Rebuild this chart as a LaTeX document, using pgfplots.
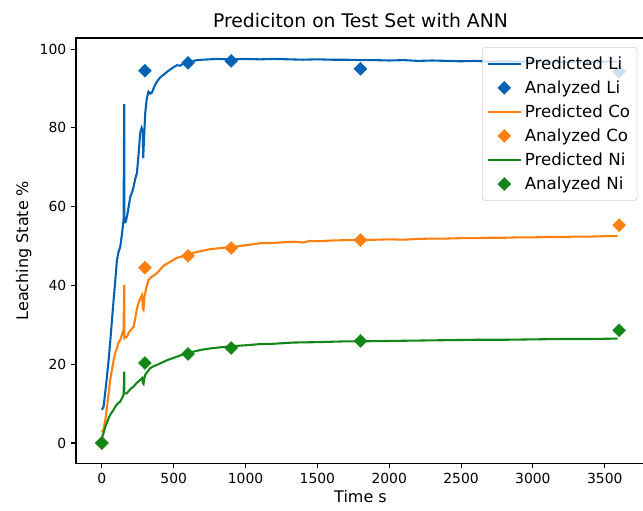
\documentclass[border=0pt]{standalone}
\usepackage{fontspec}
\setmainfont{DejaVu Sans}
\usepackage{pgfplots}
\pgfplotsset{compat=1.18}
\definecolor{cli}{RGB}{0,98,180}
\definecolor{cco}{RGB}{255,127,14}
\definecolor{cni}{RGB}{18,135,24}
\begin{document}
\begin{tikzpicture}
\begin{axis}[
    scale only axis,
    width=409.7pt, height=306pt,
    xmin=-180, xmax=3780,
    ymin=-5.1, ymax=102.8,
    xtick={0,500,...,3500},
    ytick={0,20,...,100},
    tick align=outside,
    tick pos=left,
    major tick length=3.5pt,
    axis line style={line width=0.8pt},
    every tick/.style={black, line width=0.8pt},
    /pgf/number format/assume math mode=true,
    /pgf/number format/1000 sep={},
    tick label style={font=\fontsize{10}{12}\selectfont},
    title={Prediciton on Test Set with ANN},
    title style={font=\fontsize{13.5}{16}\selectfont, yshift=-2pt},
    xlabel={Time s},
    ylabel={Leaching State \%},
    label style={font=\fontsize{11.5}{13}\selectfont},
    xlabel style={yshift=2pt},
    ylabel style={yshift=-1pt},
    legend cell align=left,
    legend image code/.code={\draw[mark repeat=2,mark phase=2,fill opacity=1,draw opacity=1,#1] plot coordinates {(0pt,0pt) (12pt,0pt) (24pt,0pt)};},
    legend style={at={(1,1)}, anchor=north east, xshift=-5.5pt, yshift=-6.5pt,
        font=\fontsize{12}{14}\selectfont, draw=black!20, fill=white,
        fill opacity=0.8, text opacity=1, rounded corners=2pt,
        row sep=2.7pt, inner ysep=4.5pt, inner xsep=3pt},
]
% predicted Li
\addplot[cli, line width=1.5pt, no markers] coordinates {
(0,8.4) (12,9.2) (24,13) (36,17) (47,21) (58,25.5) (70,31) (82,36.3) (93,41)
(105,46.4) (116,48.5) (128,49.8) (140,53) (151,56.6) (156,86) (157,56) (165,56)
(175,57.5) (187,60) (198,62.5) (209,63.5) (221,65) (232,67) (244,68.5) (255,73)
(267,78.7) (277,80) (285,79) (288,72.3) (292,76) (302,83.8) (313,87.5) (325,89.2)
(337,88.7) (348,88.9) (360,90) (372,91) (383,91.7) (406,92.8) (430,93.5) (453,94.2)
(476,94.8) (499,95.4) (522,95.9) (545,95.8) (568,96.3) (592,96.2) (615,96.8)
(638,97) (662,97.2) (700,97.3) (754,97.4) (800,97.5) (900,97.4) (1000,97.5)
(1100,97.4) (1200,97.5) (1300,97.4) (1400,97.3) (1500,97.4) (1600,97.3)
(1700,97.3) (1800,97.2) (1900,97.2) (2000,97.1) (2100,97.2) (2200,97.0)
(2300,97.1) (2400,97.0) (2500,96.9) (2600,97.0) (2700,96.8) (2800,96.9)
(2900,96.8) (3000,96.9) (3100,96.8) (3200,96.7) (3300,96.8) (3400,96.7)
(3500,96.8) (3590,96.8)
};
\addlegendentry{Predicted Li}
\addplot[only marks, mark=square*, mark size=3.25pt, mark options={rotate=45, cli, fill=cli}] coordinates {
(0,0) (300,94.5) (600,96.5) (900,97) (1800,95) (3600,94.3)
};
\addlegendentry{Analyzed Li}
% predicted Co
\addplot[cco, line width=1.5pt, no markers] coordinates {
(0,2.7) (12,3.5) (24,5.8) (36,9) (47,12.5) (58,16) (70,18.5) (82,21) (93,22.8)
(105,24) (116,25.5) (128,26.1) (140,27.5) (151,28.7) (156,40.1) (157,26.6)
(165,26.8) (175,27) (187,28) (198,28.5) (209,29) (221,29.5) (232,31.5) (244,34)
(255,35.5) (267,36.7) (280,37.5) (286,34) (290,33.8) (296,37) (309,39.3)
(325,41.4) (340,42) (360,42.5) (383,43.1) (406,44) (430,45) (453,45.5) (476,46)
(499,46.5) (522,47) (545,47.2) (568,47.5) (592,47.7) (638,48.3) (700,48.8)
(754,49.2) (830,49.5) (917,49.8) (1000,50.2) (1102,50.7) (1200,50.8) (1334,51.1)
(1400,50.9) (1450,51.3) (1500,51.2) (1600,51.4) (1700,51.5) (1800,51.5)
(1900,51.6) (2000,51.7) (2100,51.6) (2200,51.8) (2300,51.9) (2400,51.9)
(2500,52.0) (2600,52.0) (2700,52.1) (2800,52.1) (2900,52.2) (3000,52.2)
(3100,52.3) (3200,52.3) (3300,52.4) (3400,52.4) (3500,52.5) (3590,52.5)
};
\addlegendentry{Predicted Co}
\addplot[only marks, mark=square*, mark size=3.25pt, mark options={rotate=45, cco, fill=cco}] coordinates {
(0,0) (300,44.5) (600,47.5) (900,49.5) (1800,51.5) (3600,55.3)
};
\addlegendentry{Analyzed Co}
% predicted Ni
\addplot[cni, line width=1.5pt, no markers] coordinates {
(0,1.2) (12,2.5) (24,4.1) (36,5.2) (47,6.3) (58,7.1) (70,7.8) (82,8.4) (93,9.2)
(105,9.8) (116,10.2) (128,10.5) (140,11.3) (151,12.2) (156,18.1) (157,12.6)
(165,12.6) (175,12.6) (187,13.2) (198,13.6) (209,14) (221,14.3) (232,14.8)
(244,15.3) (255,15.6) (267,16) (280,16.5) (286,15.2) (290,15) (296,16.5)
(302,17.3) (320,18.2) (337,19) (360,19.5) (383,19.8) (406,20.2) (430,20.6)
(453,21) (476,21.3) (499,21.6) (522,21.9) (568,22.5) (615,23) (662,23.4)
(700,23.7) (754,24) (830,24.3) (917,24.6) (1000,24.8) (1102,25.1) (1200,25.2)
(1334,25.5) (1500,25.6) (1600,25.7) (1700,25.8) (1800,25.8) (2000,25.9)
(2200,26.0) (2400,26.1) (2600,26.2) (2800,26.2) (3000,26.3) (3200,26.4)
(3400,26.4) (3590,26.5)
};
\addlegendentry{Predicted Ni}
\addplot[only marks, mark=square*, mark size=3.25pt, mark options={rotate=45, cni, fill=cni}] coordinates {
(0,0) (300,20.3) (600,22.6) (900,24.1) (1800,25.9) (3600,28.6)
};
\addlegendentry{Analyzed Ni}
\end{axis}
\pgfresetboundingbox
\useasboundingbox ([xshift=-54.7pt,yshift=-33.8pt]current axis.south west)
    rectangle ([xshift=-1.44pt,yshift=27.4pt]current axis.north east);
\end{tikzpicture}
\end{document}
